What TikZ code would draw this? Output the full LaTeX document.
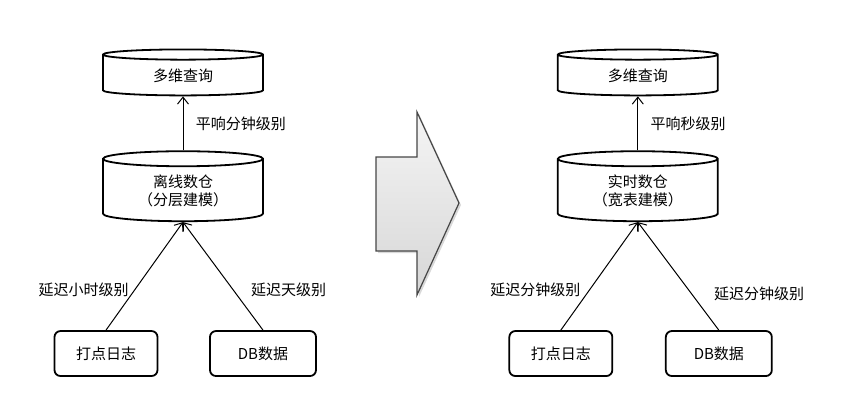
\documentclass[tikz,border=0pt]{standalone}
\usepackage{fontspec}
\newfontfamily\cjk{Noto Sans CJK SC}
\usetikzlibrary{arrows.meta,positioning,shapes.geometric,shadows}

\begin{document}
\begin{tikzpicture}[
  x=1pt, y=-1pt,
  font=\cjk\fontsize{15}{18}\selectfont,
  store/.style={draw, cylinder, shape border rotate=90, aspect=0.16, line width=1.8pt, minimum width=160pt, align=center, inner sep=2pt},
  srcbox/.style={draw, rounded corners=6pt, line width=1.8pt, minimum width=103pt, minimum height=45pt},
  link/.style={-{Straight Barb[length=7pt, width=11pt]}, line width=1pt},
  bigarrow/.style={draw=gray!55!black, line width=1.2pt, top color=gray!8, bottom color=gray!32, drop shadow={opacity=0.3, shadow xshift=2pt, shadow yshift=-2pt}}
]
\useasboundingbox (0,0) rectangle (864,397);
% offline side
\node[store, minimum height=46pt] (queryL) at (183,76) {多维查询};
\node[store, minimum height=70pt, below=54pt of queryL] (whL) {离线数仓\\（分层建模）};
\node[srcbox, below=108pt of whL, xshift=-77pt] (logL) {打点日志};
\node[srcbox, below=108pt of whL, xshift=80pt, minimum width=106pt] (dbL) {DB数据};
\draw[link] (whL.north) -- node[right=9pt] {平响分钟级别} (queryL.south);
\draw[link] (logL.north) -- node[pos=0.37, left=2pt] {延迟小时级别} (whL.south);
\draw[link] (dbL.north) -- node[pos=0.37, right=14pt] {延迟天级别} (whL.south);
% real-time side
\node[store, minimum height=46pt, right=293pt of queryL] (queryR) {多维查询};
\node[store, minimum height=70pt, below=54pt of queryR] (whR) {实时数仓\\（宽表建模）};
\node[srcbox, below=108pt of whR, xshift=-77pt] (logR) {打点日志};
\node[srcbox, below=108pt of whR, xshift=81pt, minimum width=106pt] (dbR) {DB数据};
\draw[link] (whR.north) -- node[right=9pt] {平响秒级别} (queryR.south);
\draw[link] (logR.north) -- node[pos=0.37, left=5pt] {延迟分钟级别} (whR.south);
\draw[link] (dbR.north) -- node[pos=0.34, right=19pt] {延迟分钟级别} (whR.south);
% transition arrow
\path[bigarrow] (376,157) -- (417,157) -- (417,112) -- (459,203) -- (417,295) -- (417,251) -- (376,251) -- cycle;
\end{tikzpicture}
\end{document}
